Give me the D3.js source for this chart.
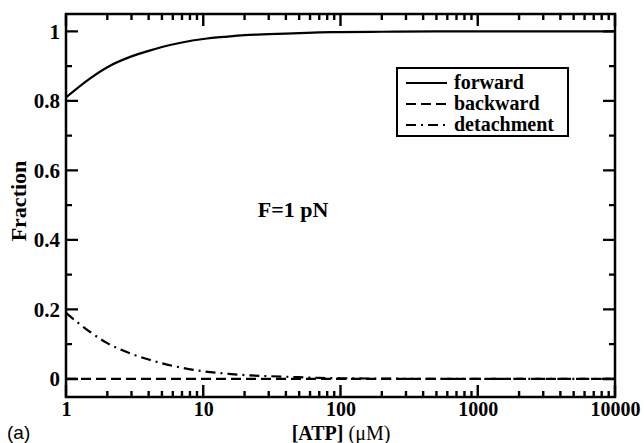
<!DOCTYPE html>
<html>
<head>
<meta charset="utf-8">
<script src="https://cdn.jsdelivr.net/npm/d3@7"></script>
<style>
  body { margin: 0; background: #fff; }
  svg { display: block; }
</style>
</head>
<body>
<div id="container"></div>
<script>
// ATP concentration (uM) sample points
const atp = [1, 1.5, 2, 3, 4, 5, 7, 10, 15, 20, 30, 50, 70, 100, 200, 500, 1000, 10000];
const forward = [0.81, 0.865, 0.897, 0.928, 0.944, 0.955, 0.968, 0.978, 0.985, 0.989, 0.992, 0.995, 0.997, 0.998, 0.999, 1, 1, 1];
const backward = [0, 0, 0, 0, 0, 0, 0, 0, 0, 0, 0, 0, 0, 0, 0, 0, 0, 0];
const detachment = [0.19, 0.135, 0.103, 0.072, 0.056, 0.045, 0.032, 0.022, 0.015, 0.011, 0.008, 0.005, 0.003, 0.002, 0.001, 0, 0, 0];

const xTicks = [1, 10, 100, 1000, 10000];
const xMinor = [2, 3, 4, 5, 6, 7, 8, 9, 20, 30, 40, 50, 60, 70, 80, 90,
  200, 300, 400, 500, 600, 700, 800, 900, 2000, 3000, 4000, 5000, 6000, 7000, 8000, 9000];
const yTicks = [0, 0.2, 0.4, 0.6, 0.8, 1];
const yMinor = [0.1, 0.3, 0.5, 0.7, 0.9];

const series = [
  { name: "forward", values: forward, dash: null },
  { name: "backward", values: backward, dash: "10,5" },
  { name: "detachment", values: detachment, dash: "10,5,2,5" }
];

const W = 644, H = 443;
const margin = { top: 14, right: 29, bottom: 46, left: 66 };
const width = W - margin.left - margin.right;
const height = H - margin.top - margin.bottom;

const svg = d3.select("#container")
  .append("svg")
  .attr("width", W)
  .attr("height", H);

const g = svg.append("g")
  .attr("transform", `translate(${margin.left},${margin.top})`);

const x = d3.scaleLog().domain([1, 10000]).range([0, width]);
const y = d3.scaleLinear().domain([-0.052, 1.05]).range([height, 0]);

const serif = "'Liberation Serif', 'Times New Roman', serif";

const line = d3.line()
  .x((d, i) => x(atp[i]))
  .y(d => y(d))
  .curve(d3.curveMonotoneX);

// Curves
g.append("g")
  .selectAll("path")
  .data(series)
  .join("path")
  .attr("fill", "none")
  .attr("stroke", "#000")
  .attr("stroke-width", 2.2)
  .attr("stroke-dasharray", d => d.dash)
  .attr("d", d => line(d.values));

// Tick labels
g.append("g").attr("transform", `translate(0,${height})`)
  .call(d3.axisBottom(x).tickValues(xTicks).tickSize(0).tickPadding(5).tickFormat(d3.format("d")))
  .selectAll("text").style("font-size", "20px");
g.append("g")
  .call(d3.axisLeft(y).tickValues(yTicks).tickSize(0).tickPadding(6).tickFormat(d => String(d)))
  .selectAll("text").style("font-size", "21px");
g.selectAll(".domain").remove();
g.selectAll(".tick text")
  .attr("fill", "#000")
  .style("font-family", serif)
  .style("font-weight", "bold");

// Frame
g.append("rect")
  .attr("width", width)
  .attr("height", height)
  .attr("fill", "none")
  .attr("stroke", "#000")
  .attr("stroke-width", 2.5);

// Inward tick marks on all four sides, one path per side
const majorLen = 12, minorLen = 6;
const xMarks = xTicks.map(v => [v, majorLen]).concat(xMinor.map(v => [v, minorLen]));
const yMarks = yTicks.map(v => [v, majorLen]).concat(yMinor.map(v => [v, minorLen]));

const tickPaths = [
  xMarks.map(([v, len]) => `M${x(v)},${height}V${height - len}`).join(""),
  xMarks.map(([v, len]) => `M${x(v)},0V${len}`).join(""),
  yMarks.map(([v, len]) => `M0,${y(v)}H${len}`).join(""),
  yMarks.map(([v, len]) => `M${width},${y(v)}H${width - len}`).join("")
];

g.append("g")
  .selectAll("path")
  .data(tickPaths)
  .join("path")
  .attr("d", d => d)
  .attr("fill", "none")
  .attr("stroke", "#000")
  .attr("stroke-width", 2.4);

// Axis titles
const xt = svg.append("text")
  .attr("x", 341)
  .attr("y", 440)
  .attr("text-anchor", "middle")
  .style("font-family", serif)
  .style("font-size", "20px");
xt.append("tspan").style("font-weight", "bold").text("[ATP]");
xt.append("tspan").text(" (μM)");

svg.append("text")
  .attr("transform", "translate(26,201) rotate(-90)")
  .attr("text-anchor", "middle")
  .style("font-family", serif)
  .style("font-size", "22px")
  .style("font-weight", "bold")
  .text("Fraction");

svg.append("text")
  .attr("x", 7)
  .attr("y", 439)
  .style("font-family", "'Liberation Sans', Arial, sans-serif")
  .style("font-size", "19px")
  .text("(a)");

svg.append("text")
  .attr("x", 293)
  .attr("y", 217)
  .attr("text-anchor", "middle")
  .style("font-family", serif)
  .style("font-size", "22px")
  .style("font-weight", "bold")
  .text("F=1 pN");

// Legend
const legend = svg.append("g").attr("transform", "translate(397,68)");
legend.append("rect")
  .attr("width", 171)
  .attr("height", 68)
  .attr("fill", "#fff")
  .attr("stroke", "#000")
  .attr("stroke-width", 2);

series.forEach((s, i) => {
  const ly = 15 + i * 21;
  legend.append("line")
    .attr("x1", 9).attr("x2", 50)
    .attr("y1", ly).attr("y2", ly)
    .attr("stroke", "#000")
    .attr("stroke-width", 2.2)
    .attr("stroke-dasharray", s.dash);
  legend.append("text")
    .attr("x", 57)
    .attr("y", ly + 6)
    .style("font-family", serif)
    .style("font-size", "20px")
    .style("font-weight", "bold")
    .text(s.name);
});
</script>
</body>
</html>
